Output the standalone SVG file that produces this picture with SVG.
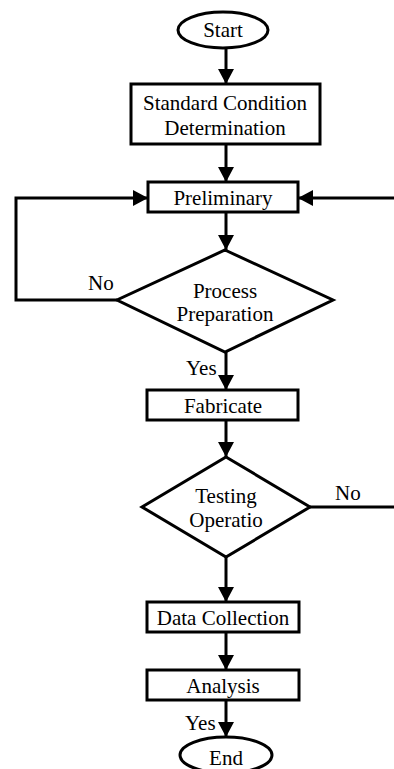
<svg xmlns="http://www.w3.org/2000/svg" width="394" height="769" viewBox="0 0 394 769">
<defs>
<style>
.s{fill:#fff;stroke:#000;stroke-width:3}
.c{fill:none;stroke:#000;stroke-width:3}
text{font-family:"Liberation Serif","Times New Roman",serif;font-size:21px;fill:#000}
.m{text-anchor:middle}
</style>
<marker id="ah" markerUnits="userSpaceOnUse" markerWidth="15" markerHeight="16" refX="15" refY="8" orient="auto" viewBox="0 0 15 16">
<path d="M0,0 L15,8 L0,16 z" fill="#000"/>
</marker>
</defs>
<g id="connectors">
<line class="c" x1="226" y1="48" x2="226" y2="84" marker-end="url(#ah)"/>
<line class="c" x1="226" y1="144" x2="226" y2="182" marker-end="url(#ah)"/>
<polyline class="c" points="117,300 16,300 16,198 148,198" marker-end="url(#ah)"/>
<line class="c" x1="394" y1="198" x2="298" y2="198" marker-end="url(#ah)"/>
<line class="c" x1="226" y1="212" x2="226" y2="250" marker-end="url(#ah)"/>
<line class="c" x1="226" y1="352" x2="226" y2="390" marker-end="url(#ah)"/>
<line class="c" x1="226" y1="420" x2="226" y2="457" marker-end="url(#ah)"/>
<line class="c" x1="310" y1="507" x2="394" y2="507"/>
<line class="c" x1="226" y1="557" x2="226" y2="602" marker-end="url(#ah)"/>
<line class="c" x1="226" y1="632" x2="226" y2="670" marker-end="url(#ah)"/>
<line class="c" x1="226" y1="700" x2="226" y2="737" marker-end="url(#ah)"/>
<text x="88" y="290">No</text>
<text x="186" y="375">Yes</text>
<text x="335" y="500">No</text>
<text x="185" y="730">Yes</text>
</g>
<g id="start">
<ellipse class="s" cx="223" cy="30" rx="45" ry="18"/>
<text class="m" x="223" y="37">Start</text>
</g>
<g id="standard">
<rect class="s" x="131" y="84" width="189" height="60"/>
<text class="m" x="225" y="110">Standard Condition</text>
<text class="m" x="225" y="135">Determination</text>
</g>
<g id="preliminary">
<rect class="s" x="148" y="182" width="150" height="30"/>
<text class="m" x="223" y="205">Preliminary</text>
</g>
<g id="process">
<polygon class="s" points="225,250 333,300 225,352 117,300"/>
<text class="m" x="225" y="298">Process</text>
<text class="m" x="225" y="321">Preparation</text>
</g>
<g id="fabricate">
<rect class="s" x="147" y="390" width="151" height="30"/>
<text class="m" x="223" y="413">Fabricate</text>
</g>
<g id="testing">
<polygon class="s" points="226,457 310,507 226,557 142,507"/>
<text class="m" x="226" y="503">Testing</text>
<text class="m" x="226" y="527">Operatio</text>
</g>
<g id="data">
<rect class="s" x="147" y="602" width="152" height="30"/>
<text class="m" x="223" y="625">Data Collection</text>
</g>
<g id="analysis">
<rect class="s" x="147" y="670" width="152" height="30"/>
<text class="m" x="223" y="693">Analysis</text>
</g>
<g id="end">
<ellipse class="s" cx="226" cy="755" rx="46" ry="18"/>
<text class="m" x="226" y="765">End</text>
</g>
</svg>
